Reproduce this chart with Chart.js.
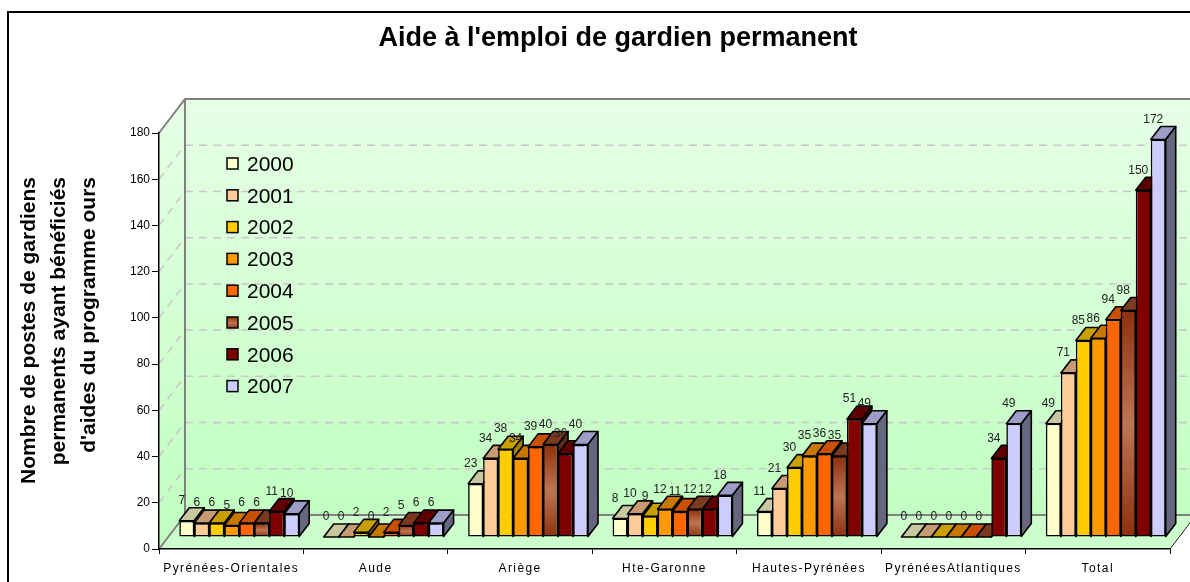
<!DOCTYPE html>
<html>
<head>
<meta charset="utf-8">
<script src="https://cdn.jsdelivr.net/npm/chart.js@4.4.1/dist/chart.umd.min.js"></script>
<style>
html, body { margin: 0; padding: 0; background: #fff; }
#wrap { width: 1190px; height: 582px; position: relative; }
</style>
</head>
<body>
<div id="wrap"><canvas id="chart"></canvas></div>
<script>
const categories = ['Pyrénées-Orientales', 'Aude', 'Ariège', 'Hte-Garonne', 'Hautes-Pyrénées', 'PyrénéesAtlantiques', 'Total'];
const years = ['2000', '2001', '2002', '2003', '2004', '2005', '2006', '2007'];
const v2000 = [7, 0, 23, 8, 11, 0, 49];
const v2001 = [6, 0, 34, 10, 21, 0, 71];
const v2002 = [6, 2, 38, 9, 30, 0, 85];
const v2003 = [5, 0, 34, 12, 35, 0, 86];
const v2004 = [6, 2, 39, 11, 36, 0, 94];
const v2005 = [6, 5, 40, 12, 35, 0, 98];
const v2006 = [11, 6, 36, 12, 51, 34, 150];
const v2007 = [10, 6, 40, 18, 49, 49, 172];
const yTicks = [0, 20, 40, 60, 80, 100, 120, 140, 160, 180];

const chartTitle = "Aide à l'emploi de gardien permanent";
const yTitle = ['Nombre de postes de gardiens', 'permanents ayant bénéficiés', "d'aides du programme ours"];

const colors = ['#FFFFCC', '#FFCC99', '#FFCC00', '#FF9900', '#FF6600', '#A0522D', '#800000', '#CCCCFF'];
const topColors = ['#C8C8A0', '#C89A73', '#C89E00', '#C87800', '#C85000', '#7A3A20', '#5E0000', '#9D9DC8'];
const sideColors = ['#8C8C70', '#A07850', '#A07E00', '#A06000', '#A04000', '#5A2A18', '#4A0000', '#66667F'];

// 3d offsets
const DX = 26, DY = -34;   // walls
const BX = 8, BY = -12;    // front face of bars
const BDX = 10, BDY = -13; // bar depth

function brownGrad(ctx, top, base) {
  const g = ctx.createLinearGradient(0, top, 0, base);
  g.addColorStop(0, '#8E2F0C');
  g.addColorStop(0.5, '#BE7553');
  g.addColorStop(1, '#8E2F0C');
  return g;
}

const box3d = {
  id: 'box3d',
  beforeDraw(chart) {
    const ctx = chart.ctx, a = chart.chartArea, ys = chart.scales.y;
    const W = chart.width;
    ctx.save();
    ctx.fillStyle = '#fff';
    ctx.fillRect(0, 0, chart.width, chart.height);
    ctx.strokeStyle = '#000';
    ctx.lineWidth = 2;
    ctx.strokeRect(8, 12, W + 20, chart.height + 20);

    let g = ctx.createLinearGradient(0, a.top + DY, 0, a.bottom + DY);
    g.addColorStop(0, '#E6FFE6');
    g.addColorStop(1, '#C2FFC2');
    ctx.fillStyle = g;
    ctx.fillRect(a.left + DX, a.top + DY, W, a.bottom - a.top);
    ctx.beginPath();
    ctx.moveTo(a.left, a.top);
    ctx.lineTo(a.left + DX, a.top + DY);
    ctx.lineTo(a.left + DX, a.bottom + DY);
    ctx.lineTo(a.left, a.bottom);
    ctx.closePath();
    ctx.fill();

    ctx.fillStyle = '#CCFFCC';
    ctx.beginPath();
    ctx.moveTo(a.left, a.bottom);
    ctx.lineTo(a.left + DX, a.bottom + DY);
    ctx.lineTo(a.right + DX, a.bottom + DY);
    ctx.lineTo(a.right, a.bottom);
    ctx.closePath();
    ctx.fill();

    ctx.setLineDash([8, 6]);
    ctx.strokeStyle = '#C8C8C8';
    ctx.lineWidth = 1.5;
    yTicks.forEach(v => {
      if (v === ys.min || v === ys.max) return;
      const y = ys.getPixelForValue(v);
      ctx.beginPath();
      ctx.moveTo(a.left + DX, y + DY);
      ctx.lineTo(W, y + DY);
      ctx.moveTo(a.left, y);
      ctx.lineTo(a.left + DX, y + DY);
      ctx.stroke();
    });
    ctx.setLineDash([]);

    ctx.strokeStyle = '#808080';
    ctx.lineWidth = 2;
    ctx.beginPath();
    ctx.moveTo(a.left, a.top);
    ctx.lineTo(a.left + DX, a.top + DY);
    ctx.lineTo(W, a.top + DY);
    ctx.moveTo(a.left + DX, a.top + DY);
    ctx.lineTo(a.left + DX, a.bottom + DY);
    ctx.lineTo(a.right + DX, a.bottom + DY);
    ctx.moveTo(a.left, a.bottom);
    ctx.lineTo(a.left + DX, a.bottom + DY);
    ctx.stroke();
    ctx.strokeStyle = '#222';
    ctx.lineWidth = 1;
    ctx.beginPath();
    ctx.moveTo(a.right, a.bottom);
    ctx.lineTo(a.right + DX, a.bottom + DY);
    ctx.stroke();
    ctx.restore();
  },
  beforeDatasetsDraw(chart) {
    const ctx = chart.ctx;
    const metas = chart.data.datasets.map((d, i) => chart.getDatasetMeta(i));
    ctx.save();
    ctx.translate(BX, BY);
    ctx.lineJoin = 'round';
    categories.forEach((c, j) => {
      metas.forEach((m, i) => {
        const el = m.data[j];
        const x = el.x, y = el.y, base = el.base, w = el.width;
        const l = x - w / 2, r = x + w / 2;
        if (y < base - 0.5) el.draw(ctx);
        ctx.strokeStyle = '#000';
        ctx.lineWidth = 1.6;
        ctx.beginPath();
        ctx.moveTo(l, y);
        ctx.lineTo(l + BDX, y + BDY);
        ctx.lineTo(r + BDX, y + BDY);
        ctx.lineTo(r, y);
        ctx.closePath();
        ctx.fillStyle = topColors[i];
        ctx.fill();
        ctx.stroke();
        ctx.beginPath();
        ctx.moveTo(r, y);
        ctx.lineTo(r + BDX, y + BDY);
        ctx.lineTo(r + BDX, base + BDY);
        ctx.lineTo(r, base);
        ctx.closePath();
        ctx.fillStyle = sideColors[i];
        ctx.fill();
        ctx.stroke();
      });
    });
    ctx.restore();

    // value labels
    ctx.save();
    ctx.font = '12px "Liberation Sans", Arial, sans-serif';
    ctx.fillStyle = '#222';
    ctx.textAlign = 'center';
    ctx.textBaseline = 'middle';
    metas.forEach((m, i) => {
      const vals = chart.data.datasets[i].data;
      m.data.forEach((el, j) => {
        ctx.fillText(String(vals[j]), el.x + BX - 5, el.y + BY - 20);
      });
    });
    ctx.restore();
    // spacing for the category labels drawn next
    ctx.letterSpacing = '1.4px';
    return false;
  },
  afterDraw(chart) {
    const ctx = chart.ctx;
    ctx.letterSpacing = '0px';
    ctx.save();
    // legend
    ctx.font = '21px "Liberation Sans", Arial, sans-serif';
    ctx.textBaseline = 'middle';
    ctx.textAlign = 'left';
    years.forEach((yr, i) => {
      const cy = 164 + i * 31.8;
      ctx.fillStyle = i === 5 ? brownGrad(ctx, cy - 6, cy + 6) : colors[i];
      ctx.fillRect(227, cy - 6, 11, 11);
      ctx.strokeStyle = '#000';
      ctx.lineWidth = 1.5;
      ctx.strokeRect(227, cy - 6, 11, 11);
      ctx.fillStyle = '#000';
      ctx.fillText(yr, 247, cy + 1);
    });
    // y title
    ctx.font = 'bold 21px "Liberation Sans", Arial, sans-serif';
    ctx.textAlign = 'right';
    yTitle.forEach((t, k) => {
      ctx.save();
      ctx.translate(29 + k * 30, 177);
      ctx.rotate(-Math.PI / 2);
      ctx.fillText(t, 0, 0);
      ctx.restore();
    });
    ctx.restore();
  }
};

const series = [v2000, v2001, v2002, v2003, v2004, v2005, v2006, v2007];
const datasets = series.map((vals, i) => ({
  label: years[i],
  data: vals,
  backgroundColor: i === 5 ? (c => {
    const ys = c.chart.scales.y;
    if (c.type !== 'data' || !ys) return colors[5];
    const top = ys.getPixelForValue(c.raw), base = ys.getPixelForValue(0);
    if (!isFinite(top) || !isFinite(base) || base - top < 1) return colors[5];
    return brownGrad(c.chart.ctx, top, base);
  }) : colors[i],
  borderColor: '#000',
  borderWidth: 1.6,
  borderSkipped: false,
  categoryPercentage: 0.83,
  barPercentage: 1.0
}));

new Chart(document.getElementById('chart'), {
  type: 'bar',
  data: { labels: categories, datasets: datasets },
  options: {
    responsive: true,
    maintainAspectRatio: false,
    animation: false,
    layout: { padding: { left: 66, right: 20, top: 0, bottom: 0 } },
    plugins: {
      legend: { display: false },
      tooltip: { enabled: false },
      title: {
        display: true,
        text: chartTitle,
        color: '#000',
        font: { family: '"Liberation Sans", Arial, sans-serif', size: 27, weight: 'bold', lineHeight: 1.2 },
        padding: { top: 22, bottom: 78.6 }
      }
    },
    scales: {
      x: {
        grid: { drawOnChartArea: false, color: '#000', tickLength: 5 },
        border: { color: '#000', width: 1.5 },
        ticks: { color: '#000', font: { family: '"Liberation Sans", Arial, sans-serif', size: 12 }, padding: 7, maxRotation: 0, autoSkip: false, z: 1 },
        afterFit: s => { s.height = 33; }
      },
      y: {
        min: 0,
        max: 180,
        afterBuildTicks: s => { s.ticks = yTicks.map(v => ({ value: v })); },
        grid: { drawOnChartArea: false, color: '#000', tickLength: 7 },
        border: { color: '#000', width: 1.5 },
        ticks: { color: '#000', font: { family: '"Liberation Sans", Arial, sans-serif', size: 12 }, padding: 2 },
        afterFit: s => { s.width = 93; }
      }
    }
  },
  plugins: [box3d]
});
</script>
</body>
</html>
